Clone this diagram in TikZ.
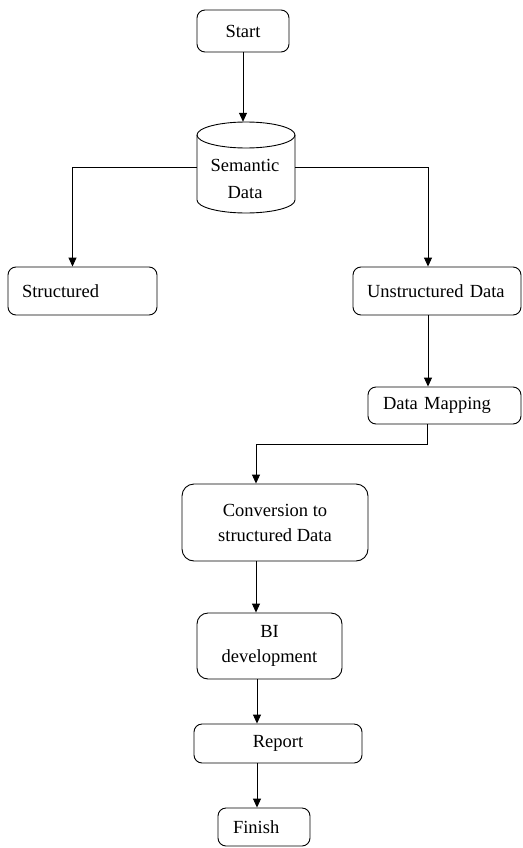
\documentclass[tikz,border=0pt]{standalone}
\usepackage{fontspec}
\setmainfont{Liberation Serif}
\usetikzlibrary{arrows.meta,calc}
\begin{document}
\begin{tikzpicture}[x=1pt,y=1pt,
  every node/.style={font=\fontsize{18.5}{25}\selectfont},
  box/.style={draw,rounded corners=8pt,line width=0.9pt,inner sep=0pt,align=center},
  lbox/.style={draw,rounded corners=8pt,line width=0.9pt,inner xsep=14pt,inner ysep=0pt,align=left},
  conn/.style={line width=0.9pt,-{Triangle[length=9pt,width=8pt]}},
  plain/.style={line width=0.9pt}]
\useasboundingbox (0,0) rectangle (522,-848);
% nodes
\node[box,minimum width=92pt,minimum height=42pt] (start) at (243,-31) {Start};
\node[inner sep=0pt,minimum width=98pt,minimum height=91pt,align=center] (sem) at (246,-167.5) {};
\draw[line width=0.9pt] (197,-135) -- (197,-200) arc[start angle=180,end angle=360,x radius=49pt,y radius=13pt] -- (295,-135);
\draw[line width=0.9pt] (246,-135) ellipse[x radius=49pt,y radius=13pt];
\node[align=center,font=\fontsize{18.5}{27}\selectfont] (semtext) at (245,-179) {Semantic\\Data};
\node[lbox,text width=121pt,minimum height=48pt] (struct) at (82.5,-291) {Structured};
\node[lbox,text width=140pt,minimum height=48pt] (unstruct) at (437,-291) {Unstructured Data};
\node[lbox,inner xsep=15pt,text width=123pt,minimum height=37pt] (map) at (444.5,-405.5) {Data Mapping};
\node[box,rounded corners=12pt,minimum width=186pt,minimum height=77pt] (conv) at (275,-522.5) {Conversion to\\structured Data};
\node[box,rounded corners=11pt,minimum width=145pt,minimum height=66pt] (bi) at (269.5,-646) {BI\\development};
\node[box,minimum width=168pt,minimum height=39pt] (report) at (278,-743.5) {Report};
\node[lbox,inner xsep=15pt,text width=62pt,minimum height=38pt] (finish) at (264,-827) {Finish};
% connectors
\draw[conn] (start.south) -- (start.south |- sem.north);
\draw[conn] (sem.west) -| ([xshift=-10pt]struct.north);
\draw[conn] (sem.east) -| ([xshift=-9pt]unstruct.north);
\draw[conn] ([xshift=-9pt]unstruct.south) -- ([xshift=-9pt]unstruct.south |- map.north);
\draw[conn] ([xshift=-17.5pt]map.south) -- ++(0,-20) -| ([xshift=-19pt]conv.north);
\draw[conn] ([xshift=-19pt]conv.south) -- ([xshift=-19pt]conv.south |- bi.north);
\draw[conn] ([xshift=-12.5pt]bi.south) -- ([xshift=-12.5pt]bi.south |- report.north);
\draw[conn] ([xshift=-12.5pt]bi.south |- report.south) -- ([xshift=-12.5pt]bi.south |- finish.north);
\end{tikzpicture}
\end{document}
